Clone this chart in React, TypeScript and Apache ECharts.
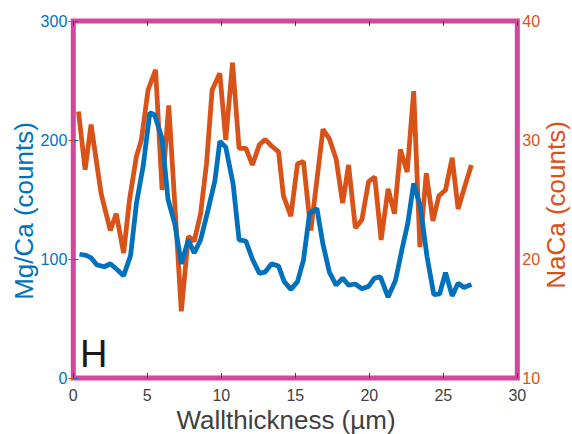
import React, { useEffect, useRef } from "react";
import * as echarts from "echarts";

const xTicks = [0, 5, 10, 15, 20, 25, 30];
const mgX = [0.42, 0.87, 1.2, 1.6, 2.1, 2.5, 2.97, 3.4, 3.87, 4.27, 4.72, 5.17, 5.5, 6.0, 6.4, 6.85, 7.3, 7.77, 8.17, 8.6, 9.1, 9.57, 9.9, 10.3, 10.8, 11.2, 11.66, 12.1, 12.57, 12.96, 13.4, 13.87, 14.25, 14.7, 15.15, 15.55, 15.96, 16.46, 16.86, 17.3, 17.76, 18.2, 18.6, 19.05, 19.5, 19.95, 20.35, 20.75, 21.27, 21.77, 22.2, 22.6, 23.0, 23.45, 23.9, 24.36, 24.75, 25.15, 25.6, 26.0, 26.4, 26.9];
const mgY = [104, 103, 101, 95, 93.5, 96, 91, 86, 103, 147, 178, 223, 221, 201, 150, 130, 96, 116, 105, 116, 141, 166, 199, 194, 163, 116, 115, 100, 88, 89, 96, 94, 81, 74.5, 81, 99, 138, 142.6, 113, 89, 78, 84, 78, 79, 75, 77, 84, 85, 68, 82, 107.5, 130, 163.5, 144, 102, 70, 70.6, 88.5, 69, 79.6, 76, 78.7];
const naX = [0.35, 0.8, 1.2, 1.88, 2.5, 2.9, 3.4, 3.8, 4.26, 4.6, 5.05, 5.56, 6.0, 6.45, 7.3, 7.77, 8.17, 8.6, 9.0, 9.38, 9.9, 10.3, 10.76, 11.2, 11.66, 12.1, 12.57, 12.96, 13.4, 13.87, 14.2, 14.7, 15.15, 15.55, 16.05, 16.87, 17.3, 17.76, 18.2, 18.6, 19.06, 19.5, 19.95, 20.37, 20.8, 21.27, 21.7, 22.1, 22.56, 23.0, 23.42, 23.85, 24.3, 24.7, 25.15, 25.6, 26.0, 26.45, 26.9];
const naY = [32.4, 27.5, 31.3, 25.5, 22.4, 23.8, 20.5, 25.0, 28.6, 30.0, 34.2, 35.9, 25.8, 32.9, 15.6, 21.9, 21.5, 23.8, 28.0, 34.2, 35.6, 30.0, 36.5, 29.3, 29.3, 27.9, 29.6, 30.05, 29.5, 29.0, 25.3, 23.6, 28.0, 28.2, 22.4, 30.9, 30.1, 28.4, 24.7, 27.9, 22.6, 23.3, 26.5, 26.9, 21.6, 25.9, 23.8, 29.2, 27.3, 34.1, 21.0, 27.2, 23.2, 25.3, 25.8, 28.5, 24.2, 26.1, 27.9];

const BLUE = "#0072BD";
const ORANGE = "#D95319";
const FRAME = "#D2479B";
const GRAY = "#404040";
const FONT = "Liberation Sans, Arial, sans-serif";

export default function App() {
  const ref = useRef<HTMLDivElement>(null);
  useEffect(() => {
    if (!ref.current) return;
    const chart = echarts.init(ref.current, null, { renderer: "svg" });
    const tickCommon = { show: true, inside: true, length: 5 };
    chart.setOption({
      animation: false,
      backgroundColor: "#ffffff",
      textStyle: { fontFamily: FONT },
      grid: {
        left: 73.3,
        right: 54.7,
        top: 21,
        bottom: 56,
        show: true,
        borderColor: FRAME,
        borderWidth: 5,
        backgroundColor: "transparent",
      },
      xAxis: [
        {
          type: "value",
          min: xTicks[0],
          max: xTicks[xTicks.length - 1],
          interval: 5,
          position: "bottom",
          axisLine: { show: false },
          splitLine: { show: false },
          axisTick: { ...tickCommon, lineStyle: { color: GRAY, width: 1 } },
          axisLabel: { color: GRAY, fontSize: 16, margin: 9, fontFamily: FONT },
        },
        {
          type: "value",
          min: xTicks[0],
          max: xTicks[xTicks.length - 1],
          interval: 5,
          position: "top",
          axisLine: { show: false },
          splitLine: { show: false },
          axisTick: { ...tickCommon, lineStyle: { color: GRAY, width: 1 } },
          axisLabel: { show: false },
        },
      ],
      yAxis: [
        {
          type: "value",
          min: 0,
          max: 300,
          interval: 100,
          position: "left",
          axisLine: { show: false },
          splitLine: { show: false },
          axisTick: { ...tickCommon, lineStyle: { color: BLUE, width: 1 } },
          axisLabel: { color: BLUE, fontSize: 16, margin: 6, fontFamily: FONT },
        },
        {
          type: "value",
          min: 10,
          max: 40,
          interval: 10,
          position: "right",
          axisLine: { show: false },
          splitLine: { show: false },
          axisTick: { ...tickCommon, lineStyle: { color: ORANGE, width: 1 } },
          axisLabel: { color: ORANGE, fontSize: 16, margin: 5, fontFamily: FONT },
        },
      ],
      series: [
        {
          name: "NaCa",
          type: "line",
          xAxisIndex: 0,
          yAxisIndex: 1,
          data: naX.map((x, i) => [x, naY[i]]),
          showSymbol: false,
          symbol: "none",
          lineStyle: { color: ORANGE, width: 4.8 },
          z: 2,
        },
        {
          name: "Mg/Ca",
          type: "line",
          xAxisIndex: 0,
          yAxisIndex: 0,
          data: mgX.map((x, i) => [x, mgY[i]]),
          showSymbol: false,
          symbol: "none",
          lineStyle: { color: BLUE, width: 4.8 },
          z: 3,
        },
      ],
      graphic: [
        {
          type: "text",
          x: 24,
          y: 211,
          rotation: Math.PI / 2,
          style: {
            text: "Mg/Ca (counts)",
            fill: BLUE,
            fontSize: 26,
            fontFamily: FONT,
            align: "center",
            verticalAlign: "middle",
          },
        },
        {
          type: "text",
          x: 556,
          y: 205,
          rotation: Math.PI / 2,
          style: {
            text: "NaCa (counts)",
            fill: ORANGE,
            fontSize: 26,
            fontFamily: FONT,
            align: "center",
            verticalAlign: "middle",
          },
        },
        {
          type: "text",
          x: 286,
          y: 420,
          style: {
            text: "Wallthickness (µm)",
            fill: GRAY,
            fontSize: 26,
            fontFamily: FONT,
            align: "center",
            verticalAlign: "middle",
          },
        },
        {
          type: "text",
          x: 80,
          y: 354,
          style: {
            text: "H",
            fill: "#1a1a1a",
            fontSize: 38,
            fontFamily: FONT,
            align: "left",
            verticalAlign: "middle",
          },
        },
      ],
    });
    return () => chart.dispose();
  }, []);
  return (
    <div
      ref={ref}
      style={{ width: 572, height: 434, position: "absolute", left: 0, top: 0 }}
    />
  );
}
